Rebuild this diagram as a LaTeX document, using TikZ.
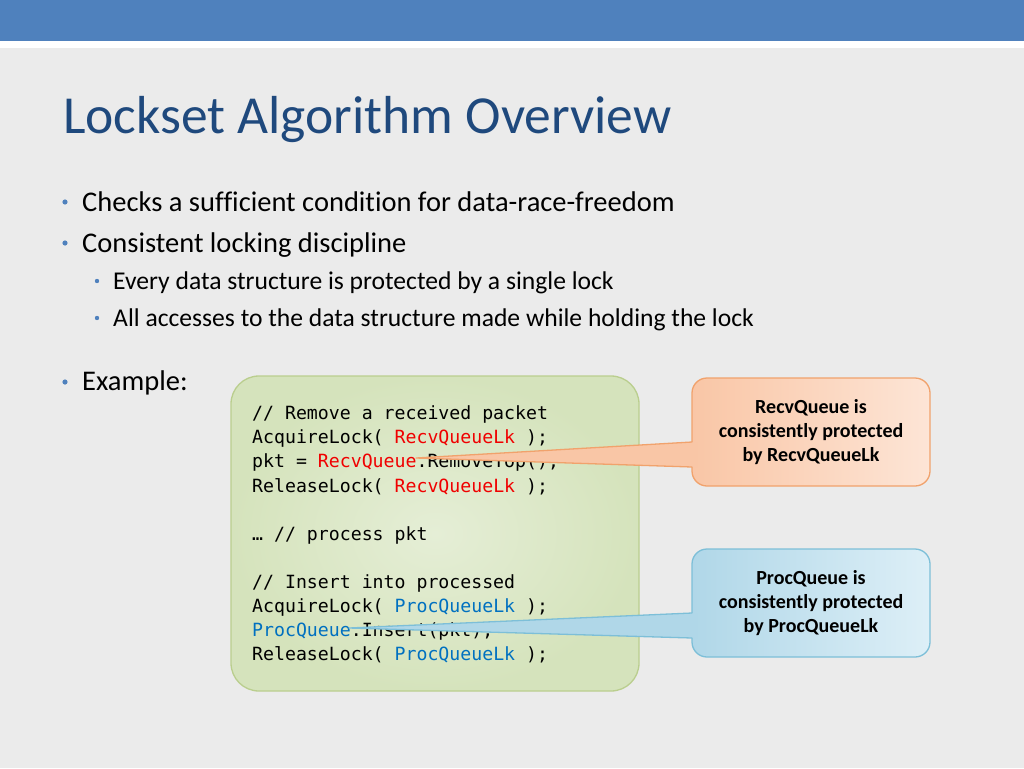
\documentclass[tikz,border=0pt]{standalone}
\usepackage{fontspec}
\setmainfont{Carlito}[Ligatures=NoCommon]
\newfontfamily\codefont{DejaVu Sans Mono}
\usetikzlibrary{positioning}
\definecolor{barblue}{HTML}{4F81BD}
\definecolor{titleblue}{HTML}{1F497D}
\definecolor{slidegray}{HTML}{EBEBEB}
\definecolor{codered}{HTML}{F00000}
\definecolor{codeblue}{HTML}{0070C0}
\definecolor{greenin}{HTML}{E5EED6}
\definecolor{greenout}{HTML}{D5E3BC}
\definecolor{greenline}{HTML}{BACE8E}
\definecolor{peachl}{HTML}{F9C6A6}
\definecolor{peachr}{HTML}{FDE5D6}
\definecolor{peachline}{HTML}{F1A26C}
\definecolor{skyl}{HTML}{B0D7E8}
\definecolor{skyr}{HTML}{DDEFF7}
\definecolor{skyline}{HTML}{7DBFD8}
\tikzset{
  lvlone/.style={anchor=base west, inner sep=0pt, font=\fontsize{28.5}{34}\selectfont},
  lvltwo/.style={anchor=base west, inner sep=0pt, font=\fontsize{25.6}{30}\selectfont},
  codeline/.style={anchor=base west, inner sep=0pt, font=\codefont\fontsize{18.2}{24}\selectfont},
  callout/.style={rounded corners=15pt, line width=1.3pt, minimum width=238pt,
    minimum height=108pt, align=center, inner sep=0pt,
    font=\bfseries\fontsize{20}{24.4}\selectfont}
}
\begin{document}
\begin{tikzpicture}[line cap=round,line join=round,x=1pt,y=-1pt]
\useasboundingbox (0,0) rectangle (1024,768);
\fill[slidegray] (0,0) rectangle (1024,768);
\fill[white] (0,0) rectangle (1024,48);
\fill[barblue] (0,0) rectangle (1024,41);
\node[anchor=base west, inner sep=0pt, text=titleblue,
  font=\fontsize{53.5}{60}\selectfont] (title) at (63,133) {Lockset Algorithm Overview};
% bullets
\fill [color=barblue] (65,202) circle (2.6pt);
\fill [color=barblue] (65,243) circle (2.6pt);
\fill [color=barblue] (97,281) circle (2.2pt);
\fill [color=barblue] (97,318) circle (2.2pt);
\fill [color=barblue] (65,382) circle (2.6pt);
\node[lvlone] (checks) at (82,211) {Checks a sufficient condition for data-race-freedom};
\node[lvlone] (consistent) at (82,252) {Consistent locking discipline};
\node[lvltwo] (every) at (113,289) {Every data structure is protected by a single lock};
\node[lvltwo] (accesses) at (113,326) {All accesses to the data structure made while holding the lock};
\node[lvlone] (example) at (82,390) {Example:};
% code
\draw[line width=1.3pt, draw=greenline, inner color=greenin, outer color=greenout,
  rounded corners=28pt] (231,376) rectangle (639,691);
\node[codeline] (rm) at (252,419) {// Remove a received packet};
\node[codeline] (acqrecv) at (252,443.5) {AcquireLock( \textcolor{codered}{RecvQueueLk} );};
\node[codeline] (pkt) at (252,467.7) {pkt = \textcolor{codered}{RecvQueue}.RemoveTop();};
\node[codeline] (relrecv) at (252,492) {ReleaseLock( \textcolor{codered}{RecvQueueLk} );};
\node[codeline] (process) at (252,540) {… // process pkt};
\node[codeline] (ins) at (252,588) {// Insert into processed};
\node[codeline] (acqproc) at (252,612) {AcquireLock( \textcolor{codeblue}{ProcQueueLk} );};
\node[codeline] (insert) at (252,636) {\textcolor{codeblue}{ProcQueue}.Insert(pkt);};
\node[codeline] (relproc) at (252,660) {ReleaseLock( \textcolor{codeblue}{ProcQueueLk} );};
% callouts
\node[callout, draw=peachline, left color=peachl, right color=peachr] (recv) at (811,432)
  {RecvQueue is\\consistently protected\\by RecvQueueLk};
\coordinate (recvtip) at (416,458);
\coordinate (recvtop) at (692,442);
\coordinate (recvbot) at (692,467);
\fill[peachl] (recvtip) -- (recvtop) -- ++(5,0) |- (recvbot) -- cycle;
\draw[peachline, line width=1.3pt] (recvtop) -- (recvtip) -- (recvbot);
\node[callout, draw=skyline, left color=skyl, right color=skyr] (proc) at (811,603)
  {ProcQueue is\\consistently protected\\by ProcQueueLk};
\coordinate (proctip) at (349,628);
\coordinate (proctop) at (692,613);
\coordinate (procbot) at (692,638);
\fill[skyl] (proctip) -- (proctop) -- ++(5,0) |- (procbot) -- cycle;
\draw[skyline, line width=1.3pt] (proctop) -- (proctip) -- (procbot);
\end{tikzpicture}
\end{document}
